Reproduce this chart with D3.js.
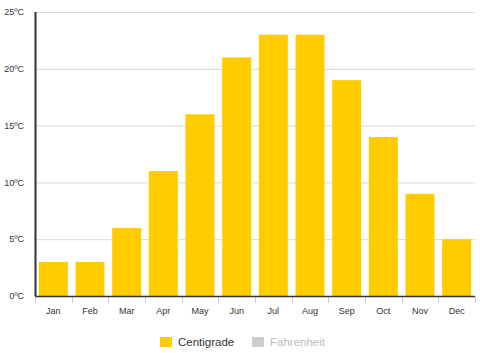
<!DOCTYPE html>
<html>
<head>
<meta charset="utf-8">
<script src="https://cdn.jsdelivr.net/npm/d3@7"></script>
<style>
  body { margin: 0; background: #fff; }
  svg { font-family: "Liberation Sans", Arial, sans-serif; }
</style>
</head>
<body>
<svg id="chart" width="480" height="353"></svg>
<script>
var months = ["Jan", "Feb", "Mar", "Apr", "May", "Jun", "Jul", "Aug", "Sep", "Oct", "Nov", "Dec"];
var centigrade = [3, 3, 6, 11, 16, 21, 23, 23, 19, 14, 9, 5];
var yTicks = [0, 5, 10, 15, 20, 25];
var legendNames = ["Centigrade", "Fahrenheit"];

var svg = d3.select("#chart"),
    margin = {top: 12, right: 5, bottom: 57, left: 35},
    width = svg.attr("width") - margin.left - margin.right,
    height = svg.attr("height") - margin.top - margin.bottom,
    g = svg.append("g").attr("transform", "translate(" + margin.left + "," + margin.top + ")");

var x = d3.scaleBand().domain(months).range([0, width]).paddingInner(0.21).paddingOuter(0.105),
    y = d3.scaleLinear().domain([0, 25]).range([height, 0]);

// gridlines
g.append("g")
    .selectAll("line")
    .data(yTicks)
    .enter().append("line")
    .attr("x1", 0)
    .attr("x2", width)
    .attr("y1", function(d) { return y(d) + 0.5; })
    .attr("y2", function(d) { return y(d) + 0.5; })
    .attr("stroke", "#d8d8d8");

// y labels
g.append("g")
    .selectAll("text")
    .data(yTicks)
    .enter().append("text")
    .attr("x", -11)
    .attr("y", function(d) { return y(d); })
    .attr("dy", "0.35em")
    .attr("text-anchor", "end")
    .attr("font-size", 9)
    .attr("fill", "#333")
    .text(function(d) { return d + "ºC"; });

// bars
g.selectAll(".bar")
    .data(centigrade)
    .enter().append("rect")
    .attr("class", "bar")
    .attr("x", function(d, i) { return x(months[i]); })
    .attr("y", function(d) { return y(d); })
    .attr("width", x.bandwidth())
    .attr("height", function(d) { return height - y(d); })
    .attr("fill", "#ffcc00");

// category ticks between bands
var step = x.step();
g.append("g")
    .selectAll("line")
    .data(d3.range(months.length + 1))
    .enter().append("line")
    .attr("x1", function(i) { return Math.round(i * width / months.length) + 0.5; })
    .attr("x2", function(i) { return Math.round(i * width / months.length) + 0.5; })
    .attr("y1", height)
    .attr("y2", height + 7)
    .attr("stroke", "#ccc");

// x labels
g.append("g")
    .selectAll("text")
    .data(months)
    .enter().append("text")
    .attr("x", function(d) { return x(d) + x.bandwidth() / 2; })
    .attr("y", height + 18)
    .attr("text-anchor", "middle")
    .attr("font-size", 9)
    .attr("fill", "#333")
    .text(function(d) { return d; });

// axes lines
g.append("line")
    .attr("x1", 0).attr("x2", width)
    .attr("y1", height + 0.5).attr("y2", height + 0.5)
    .attr("stroke", "#333").attr("stroke-width", 1.5);
g.append("line")
    .attr("x1", 0.5).attr("x2", 0.5)
    .attr("y1", 0).attr("y2", height)
    .attr("stroke", "#333").attr("stroke-width", 2);

// legend
var legendColors = ["#ffcc00", "#cccccc"],
    legendText = ["#333", "#bbb"],
    legendX = [160, 252];
var lg = svg.append("g").selectAll("g")
    .data(legendNames)
    .enter().append("g")
    .attr("transform", function(d, i) { return "translate(" + legendX[i] + ",337)"; });
lg.append("rect")
    .attr("width", 12).attr("height", 10)
    .attr("fill", function(d, i) { return legendColors[i]; });
lg.append("text")
    .attr("x", 18).attr("y", 5)
    .attr("dy", "0.35em")
    .attr("font-size", 11.5)
    .attr("fill", function(d, i) { return legendText[i]; })
    .text(function(d) { return d; });
</script>
</body>
</html>
